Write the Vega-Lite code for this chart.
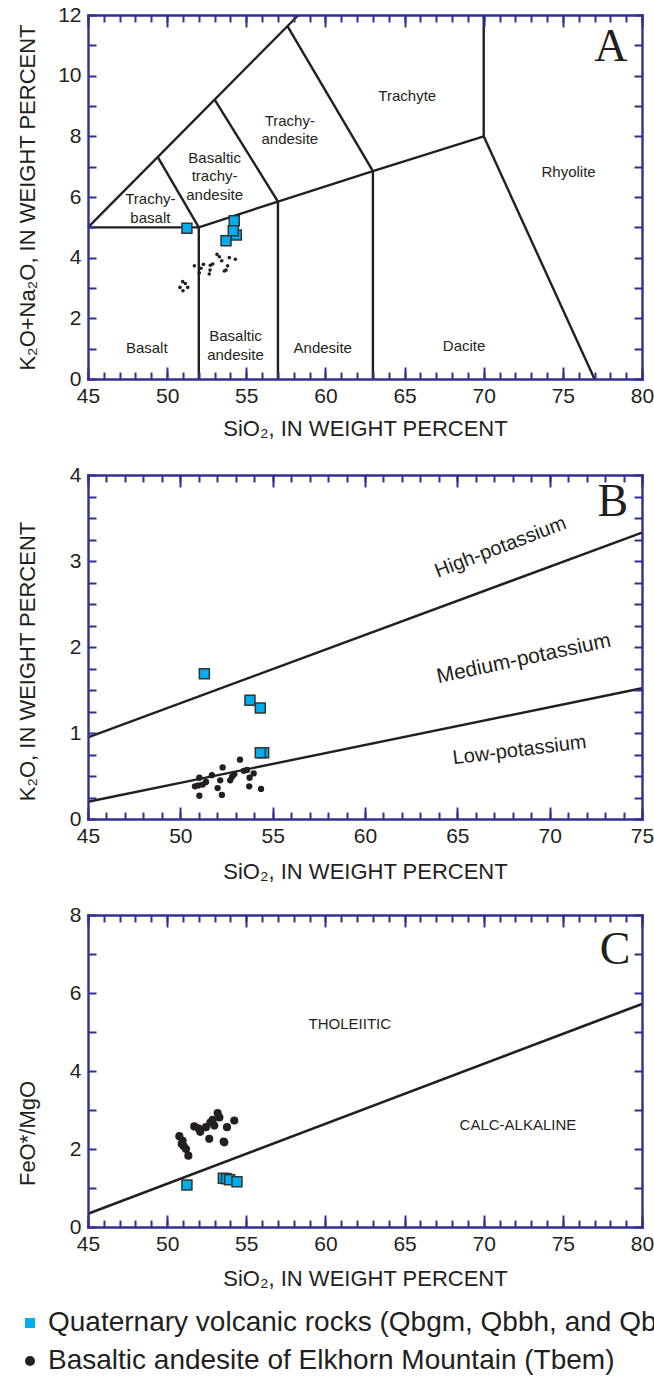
{
  "$schema": "https://vega.github.io/schema/vega-lite/v6.json",
  "background": "white",
  "padding": {"left": 16, "top": 4, "right": 0, "bottom": 0},
  "bounds": "flush",
  "spacing": 96,
  "datasets": {
    "tasLines": [
      {"seg": 1, "o": 1, "x": 45, "y": 5}, {"seg": 1, "o": 2, "x": 52, "y": 5},
      {"seg": 2, "o": 1, "x": 52, "y": 0}, {"seg": 2, "o": 2, "x": 52, "y": 5},
      {"seg": 3, "o": 1, "x": 52, "y": 5}, {"seg": 3, "o": 2, "x": 57, "y": 5.85}, {"seg": 3, "o": 3, "x": 63, "y": 6.85}, {"seg": 3, "o": 4, "x": 70, "y": 8},
      {"seg": 4, "o": 1, "x": 57, "y": 0}, {"seg": 4, "o": 2, "x": 57, "y": 5.85},
      {"seg": 5, "o": 1, "x": 63, "y": 0}, {"seg": 5, "o": 2, "x": 63, "y": 6.85},
      {"seg": 6, "o": 1, "x": 70, "y": 8}, {"seg": 6, "o": 2, "x": 77, "y": 0},
      {"seg": 7, "o": 1, "x": 70, "y": 8}, {"seg": 7, "o": 2, "x": 70, "y": 12},
      {"seg": 8, "o": 1, "x": 45, "y": 5}, {"seg": 8, "o": 2, "x": 58.3, "y": 12},
      {"seg": 9, "o": 1, "x": 49.4, "y": 7.32}, {"seg": 9, "o": 2, "x": 52, "y": 5},
      {"seg": 10, "o": 1, "x": 53, "y": 9.21}, {"seg": 10, "o": 2, "x": 57, "y": 5.85},
      {"seg": 11, "o": 1, "x": 57.6, "y": 11.63}, {"seg": 11, "o": 2, "x": 63, "y": 6.85}
    ],
    "tasLabels": [
      {"x": 48.71, "y": 1.02, "label": "Basalt"},
      {"x": 54.32, "y": 1.41, "label": "Basaltic\nandesite"},
      {"x": 59.83, "y": 1.02, "label": "Andesite"},
      {"x": 68.76, "y": 1.1, "label": "Dacite"},
      {"x": 75.36, "y": 6.82, "label": "Rhyolite"},
      {"x": 65.17, "y": 9.33, "label": "Trachyte"},
      {"x": 57.75, "y": 8.52, "label": "Trachy-\nandesite"},
      {"x": 53.0, "y": 7.3, "label": "Basaltic\ntrachy-\nandesite"},
      {"x": 48.94, "y": 5.93, "label": "Trachy-\nbasalt"}
    ],
    "tasDots": [
      {"x": 50.98, "y": 3.21, "type": "Basaltic andesite of Elkhorn Mountain (Tbem)"},
      {"x": 51.15, "y": 3.15, "type": "Basaltic andesite of Elkhorn Mountain (Tbem)"},
      {"x": 51.3, "y": 3.02, "type": "Basaltic andesite of Elkhorn Mountain (Tbem)"},
      {"x": 50.81, "y": 3.02, "type": "Basaltic andesite of Elkhorn Mountain (Tbem)"},
      {"x": 51.0, "y": 2.91, "type": "Basaltic andesite of Elkhorn Mountain (Tbem)"},
      {"x": 51.72, "y": 3.73, "type": "Basaltic andesite of Elkhorn Mountain (Tbem)"},
      {"x": 52.14, "y": 3.65, "type": "Basaltic andesite of Elkhorn Mountain (Tbem)"},
      {"x": 52.29, "y": 3.78, "type": "Basaltic andesite of Elkhorn Mountain (Tbem)"},
      {"x": 52.03, "y": 3.5, "type": "Basaltic andesite of Elkhorn Mountain (Tbem)"},
      {"x": 52.73, "y": 3.75, "type": "Basaltic andesite of Elkhorn Mountain (Tbem)"},
      {"x": 52.88, "y": 3.79, "type": "Basaltic andesite of Elkhorn Mountain (Tbem)"},
      {"x": 52.71, "y": 3.59, "type": "Basaltic andesite of Elkhorn Mountain (Tbem)"},
      {"x": 52.66, "y": 3.46, "type": "Basaltic andesite of Elkhorn Mountain (Tbem)"},
      {"x": 53.15, "y": 4.11, "type": "Basaltic andesite of Elkhorn Mountain (Tbem)"},
      {"x": 53.3, "y": 4.03, "type": "Basaltic andesite of Elkhorn Mountain (Tbem)"},
      {"x": 53.45, "y": 3.9, "type": "Basaltic andesite of Elkhorn Mountain (Tbem)"},
      {"x": 53.93, "y": 4.0, "type": "Basaltic andesite of Elkhorn Mountain (Tbem)"},
      {"x": 54.31, "y": 3.95, "type": "Basaltic andesite of Elkhorn Mountain (Tbem)"},
      {"x": 53.82, "y": 3.73, "type": "Basaltic andesite of Elkhorn Mountain (Tbem)"},
      {"x": 53.72, "y": 3.59, "type": "Basaltic andesite of Elkhorn Mountain (Tbem)"},
      {"x": 53.61, "y": 3.56, "type": "Basaltic andesite of Elkhorn Mountain (Tbem)"}
    ],
    "tasSq": [
      {"x": 54.37, "y": 4.75, "type": "Quaternary volcanic rocks (Qbgm, Qbbh, and Qbm)"},
      {"x": 51.25, "y": 4.97, "type": "Quaternary volcanic rocks (Qbgm, Qbbh, and Qbm)"},
      {"x": 54.24, "y": 5.22, "type": "Quaternary volcanic rocks (Qbgm, Qbbh, and Qbm)"},
      {"x": 54.18, "y": 4.89, "type": "Quaternary volcanic rocks (Qbgm, Qbbh, and Qbm)"},
      {"x": 53.72, "y": 4.56, "type": "Quaternary volcanic rocks (Qbgm, Qbbh, and Qbm)"}
    ],
    "kLines": [
      {"seg": 1, "o": 1, "x": 45, "y": 0.95}, {"seg": 1, "o": 2, "x": 75, "y": 3.33},
      {"seg": 2, "o": 1, "x": 45, "y": 0.2}, {"seg": 2, "o": 2, "x": 75, "y": 1.52}
    ],
    "kDots": [
      {"x": 53.23, "y": 0.69, "type": "Basaltic andesite of Elkhorn Mountain (Tbem)"},
      {"x": 52.29, "y": 0.6, "type": "Basaltic andesite of Elkhorn Mountain (Tbem)"},
      {"x": 51.71, "y": 0.51, "type": "Basaltic andesite of Elkhorn Mountain (Tbem)"},
      {"x": 51.03, "y": 0.48, "type": "Basaltic andesite of Elkhorn Mountain (Tbem)"},
      {"x": 50.79, "y": 0.38, "type": "Basaltic andesite of Elkhorn Mountain (Tbem)"},
      {"x": 50.97, "y": 0.39, "type": "Basaltic andesite of Elkhorn Mountain (Tbem)"},
      {"x": 51.21, "y": 0.4, "type": "Basaltic andesite of Elkhorn Mountain (Tbem)"},
      {"x": 51.39, "y": 0.43, "type": "Basaltic andesite of Elkhorn Mountain (Tbem)"},
      {"x": 51.03, "y": 0.27, "type": "Basaltic andesite of Elkhorn Mountain (Tbem)"},
      {"x": 52.02, "y": 0.36, "type": "Basaltic andesite of Elkhorn Mountain (Tbem)"},
      {"x": 52.16, "y": 0.45, "type": "Basaltic andesite of Elkhorn Mountain (Tbem)"},
      {"x": 52.25, "y": 0.28, "type": "Basaltic andesite of Elkhorn Mountain (Tbem)"},
      {"x": 52.7, "y": 0.45, "type": "Basaltic andesite of Elkhorn Mountain (Tbem)"},
      {"x": 52.8, "y": 0.49, "type": "Basaltic andesite of Elkhorn Mountain (Tbem)"},
      {"x": 52.92, "y": 0.52, "type": "Basaltic andesite of Elkhorn Mountain (Tbem)"},
      {"x": 53.43, "y": 0.56, "type": "Basaltic andesite of Elkhorn Mountain (Tbem)"},
      {"x": 53.61, "y": 0.57, "type": "Basaltic andesite of Elkhorn Mountain (Tbem)"},
      {"x": 53.75, "y": 0.48, "type": "Basaltic andesite of Elkhorn Mountain (Tbem)"},
      {"x": 53.97, "y": 0.53, "type": "Basaltic andesite of Elkhorn Mountain (Tbem)"},
      {"x": 53.73, "y": 0.38, "type": "Basaltic andesite of Elkhorn Mountain (Tbem)"},
      {"x": 54.37, "y": 0.35, "type": "Basaltic andesite of Elkhorn Mountain (Tbem)"}
    ],
    "kSq": [
      {"x": 51.3, "y": 1.69, "type": "Quaternary volcanic rocks (Qbgm, Qbbh, and Qbm)"},
      {"x": 53.77, "y": 1.38, "type": "Quaternary volcanic rocks (Qbgm, Qbbh, and Qbm)"},
      {"x": 54.33, "y": 1.29, "type": "Quaternary volcanic rocks (Qbgm, Qbbh, and Qbm)"},
      {"x": 54.51, "y": 0.77, "type": "Quaternary volcanic rocks (Qbgm, Qbbh, and Qbm)"},
      {"x": 54.33, "y": 0.77, "type": "Quaternary volcanic rocks (Qbgm, Qbbh, and Qbm)"}
    ],
    "fmLines": [
      {"seg": 1, "o": 1, "x": 45, "y": 0.34}, {"seg": 1, "o": 2, "x": 80, "y": 5.72}
    ],
    "fmDots": [
      {"x": 50.77, "y": 2.33, "type": "Basaltic andesite of Elkhorn Mountain (Tbem)"},
      {"x": 50.98, "y": 2.21, "type": "Basaltic andesite of Elkhorn Mountain (Tbem)"},
      {"x": 50.92, "y": 2.13, "type": "Basaltic andesite of Elkhorn Mountain (Tbem)"},
      {"x": 51.05, "y": 2.07, "type": "Basaltic andesite of Elkhorn Mountain (Tbem)"},
      {"x": 51.19, "y": 2.0, "type": "Basaltic andesite of Elkhorn Mountain (Tbem)"},
      {"x": 51.34, "y": 1.83, "type": "Basaltic andesite of Elkhorn Mountain (Tbem)"},
      {"x": 51.71, "y": 2.58, "type": "Basaltic andesite of Elkhorn Mountain (Tbem)"},
      {"x": 51.97, "y": 2.53, "type": "Basaltic andesite of Elkhorn Mountain (Tbem)"},
      {"x": 52.09, "y": 2.44, "type": "Basaltic andesite of Elkhorn Mountain (Tbem)"},
      {"x": 52.45, "y": 2.56, "type": "Basaltic andesite of Elkhorn Mountain (Tbem)"},
      {"x": 52.73, "y": 2.68, "type": "Basaltic andesite of Elkhorn Mountain (Tbem)"},
      {"x": 52.88, "y": 2.75, "type": "Basaltic andesite of Elkhorn Mountain (Tbem)"},
      {"x": 53.19, "y": 2.92, "type": "Basaltic andesite of Elkhorn Mountain (Tbem)"},
      {"x": 53.3, "y": 2.81, "type": "Basaltic andesite of Elkhorn Mountain (Tbem)"},
      {"x": 52.98, "y": 2.6, "type": "Basaltic andesite of Elkhorn Mountain (Tbem)"},
      {"x": 52.66, "y": 2.26, "type": "Basaltic andesite of Elkhorn Mountain (Tbem)"},
      {"x": 53.57, "y": 2.19, "type": "Basaltic andesite of Elkhorn Mountain (Tbem)"},
      {"x": 53.78, "y": 2.56, "type": "Basaltic andesite of Elkhorn Mountain (Tbem)"},
      {"x": 54.24, "y": 2.73, "type": "Basaltic andesite of Elkhorn Mountain (Tbem)"},
      {"x": 53.61, "y": 2.17, "type": "Basaltic andesite of Elkhorn Mountain (Tbem)"}
    ],
    "fmSq": [
      {"x": 51.25, "y": 1.08, "type": "Quaternary volcanic rocks (Qbgm, Qbbh, and Qbm)"},
      {"x": 53.55, "y": 1.25, "type": "Quaternary volcanic rocks (Qbgm, Qbbh, and Qbm)"},
      {"x": 53.75, "y": 1.24, "type": "Quaternary volcanic rocks (Qbgm, Qbbh, and Qbm)"},
      {"x": 53.95, "y": 1.21, "type": "Quaternary volcanic rocks (Qbgm, Qbbh, and Qbm)"},
      {"x": 54.41, "y": 1.16, "type": "Quaternary volcanic rocks (Qbgm, Qbbh, and Qbm)"}
    ]
  },
  "vconcat": [
    {
      "width": 554,
      "height": 364,
      "layer": [
        {
          "data": {"name": "tasLines"},
          "mark": {"type": "line", "color": "#231f20", "strokeWidth": 2.4},
          "encoding": {
            "x": {"field": "x", "type": "quantitative", "scale": {"domain": [45, 80], "nice": false, "zero": false},
              "axis": {"orient": "bottom", "values": [45, 50, 55, 60, 65, 70, 75, 80], "format": "d", "tickSize": -12, "labelPadding": 18, "title": "SiO₂, IN WEIGHT PERCENT", "titleY": 56, "titleBaseline": "alphabetic", "zindex": 1}},
            "y": {"field": "y", "type": "quantitative", "scale": {"domain": [0, 12], "nice": false, "zero": false},
              "axis": {"orient": "left", "values": [0, 1, 2, 3, 4, 5, 6, 7, 8, 9, 10, 11, 12], "format": "d", "tickSize": -8, "labelPadding": 15, "labelExpr": "datum.value % 2 === 0 ? datum.label : ''", "title": "K₂O+Na₂O, IN WEIGHT PERCENT", "titleX": -54, "titleBaseline": "alphabetic", "zindex": 1}},
            "detail": {"field": "seg", "type": "nominal"},
            "order": {"field": "o", "type": "quantitative"}
          }
        },
        {
          "data": {"name": "tasLabels"},
          "mark": {"type": "text", "font": "Liberation Sans", "fontSize": 15, "color": "#231f20", "lineBreak": "\n", "lineHeight": 18.5, "align": "center", "baseline": "middle"},
          "encoding": {
            "x": {"field": "x", "type": "quantitative", "scale": {"domain": [45, 80], "nice": false, "zero": false},
              "axis": {"orient": "bottom", "values": [45, 46, 47, 48, 49, 50, 51, 52, 53, 54, 55, 56, 57, 58, 59, 60, 61, 62, 63, 64, 65, 66, 67, 68, 69, 70, 71, 72, 73, 74, 75, 76, 77, 78, 79, 80], "tickSize": -7, "labels": false, "domain": false, "title": null, "zindex": 1}},
            "y": {"field": "y", "type": "quantitative", "scale": {"domain": [0, 12], "nice": false, "zero": false}, "axis": null},
            "text": {"field": "label"}
          }
        },
        {
          "data": {"name": "tasDots"},
          "mark": {"type": "point", "filled": true, "size": 13, "opacity": 1},
          "encoding": {
            "x": {"field": "x", "type": "quantitative", "scale": {"domain": [45, 80], "nice": false, "zero": false},
              "axis": {"orient": "top", "values": [45, 50, 55, 60, 65, 70, 75, 80], "tickSize": -12, "labels": false, "title": null, "zindex": 1}},
            "y": {"field": "y", "type": "quantitative", "scale": {"domain": [0, 12], "nice": false, "zero": false},
              "axis": {"orient": "right", "values": [0, 1, 2, 3, 4, 5, 6, 7, 8, 9, 10, 11, 12], "tickSize": -8, "labels": false, "title": null, "zindex": 1}},
            "fill": {"field": "type", "type": "nominal", "scale": {"domain": ["Quaternary volcanic rocks (Qbgm, Qbbh, and Qbm)", "Basaltic andesite of Elkhorn Mountain (Tbem)"], "range": ["#00aeef", "#231f20"]}},
            "shape": {"field": "type", "type": "nominal", "scale": {"domain": ["Quaternary volcanic rocks (Qbgm, Qbbh, and Qbm)", "Basaltic andesite of Elkhorn Mountain (Tbem)"], "range": ["square", "circle"]}}
          }
        },
        {
          "data": {"name": "tasSq"},
          "mark": {"type": "point", "filled": true, "size": 100, "opacity": 1, "stroke": "#333333", "strokeWidth": 1.5},
          "encoding": {
            "x": {"field": "x", "type": "quantitative", "scale": {"domain": [45, 80], "nice": false, "zero": false},
              "axis": {"orient": "top", "values": [45, 46, 47, 48, 49, 50, 51, 52, 53, 54, 55, 56, 57, 58, 59, 60, 61, 62, 63, 64, 65, 66, 67, 68, 69, 70, 71, 72, 73, 74, 75, 76, 77, 78, 79, 80], "tickSize": -7, "labels": false, "domain": false, "title": null, "zindex": 1}},
            "y": {"field": "y", "type": "quantitative", "scale": {"domain": [0, 12], "nice": false, "zero": false}, "axis": null},
            "fill": {"field": "type", "type": "nominal"},
            "shape": {"field": "type", "type": "nominal"}
          }
        },
        {
          "data": {"values": [{"x": 78.04, "y": 10.96, "label": "A"}]},
          "mark": {"type": "text", "font": "Liberation Serif", "fontSize": 46, "color": "#231f20", "align": "center", "baseline": "middle"},
          "encoding": {
            "x": {"field": "x", "type": "quantitative", "scale": {"domain": [45, 80], "nice": false, "zero": false}, "axis": null},
            "y": {"field": "y", "type": "quantitative", "scale": {"domain": [0, 12], "nice": false, "zero": false}, "axis": null},
            "text": {"field": "label"}
          }
        }
      ],
      "resolve": {"axis": {"x": "independent", "y": "independent"}}
    },
    {
      "width": 554,
      "height": 344,
      "layer": [
        {
          "data": {"name": "kLines"},
          "mark": {"type": "line", "color": "#231f20", "strokeWidth": 2.4},
          "encoding": {
            "x": {"field": "x", "type": "quantitative", "scale": {"domain": [45, 75], "nice": false, "zero": false},
              "axis": {"orient": "bottom", "values": [45, 50, 55, 60, 65, 70, 75], "format": "d", "tickSize": -12, "labelPadding": 18, "title": "SiO₂, IN WEIGHT PERCENT", "titleY": 59, "titleBaseline": "alphabetic", "zindex": 1}},
            "y": {"field": "y", "type": "quantitative", "scale": {"domain": [0, 4], "nice": false, "zero": false},
              "axis": {"orient": "left", "values": [0, 0.25, 0.5, 0.75, 1, 1.25, 1.5, 1.75, 2, 2.25, 2.5, 2.75, 3, 3.25, 3.5, 3.75, 4], "format": ".0f", "tickSize": -8, "labelPadding": 15, "labelExpr": "datum.value % 1 === 0 ? datum.label : ''", "title": "K₂O, IN WEIGHT PERCENT", "titleX": -54, "titleY": 186, "titleBaseline": "alphabetic", "zindex": 1}},
            "detail": {"field": "seg", "type": "nominal"},
            "order": {"field": "o", "type": "quantitative"}
          }
        },
        {
          "data": {"values": [{"x": 67.34, "y": 3.16, "label": "High-potassium"}]},
          "mark": {"type": "text", "font": "Liberation Sans", "fontSize": 20, "color": "#231f20", "angle": -21, "align": "center", "baseline": "middle"},
          "encoding": {
            "x": {"field": "x", "type": "quantitative", "scale": {"domain": [45, 75], "nice": false, "zero": false},
              "axis": {"orient": "bottom", "values": [45, 46, 47, 48, 49, 50, 51, 52, 53, 54, 55, 56, 57, 58, 59, 60, 61, 62, 63, 64, 65, 66, 67, 68, 69, 70, 71, 72, 73, 74, 75], "tickSize": -7, "labels": false, "domain": false, "title": null, "zindex": 1}},
            "y": {"field": "y", "type": "quantitative", "scale": {"domain": [0, 4], "nice": false, "zero": false}, "axis": null},
            "text": {"field": "label"}
          }
        },
        {
          "data": {"values": [{"x": 68.6, "y": 1.86, "label": "Medium-potassium"}]},
          "mark": {"type": "text", "font": "Liberation Sans", "fontSize": 21, "color": "#231f20", "angle": -12, "align": "center", "baseline": "middle"},
          "encoding": {
            "x": {"field": "x", "type": "quantitative", "scale": {"domain": [45, 75], "nice": false, "zero": false}, "axis": null},
            "y": {"field": "y", "type": "quantitative", "scale": {"domain": [0, 4], "nice": false, "zero": false}, "axis": null},
            "text": {"field": "label"}
          }
        },
        {
          "data": {"values": [{"x": 68.37, "y": 0.8, "label": "Low-potassium"}]},
          "mark": {"type": "text", "font": "Liberation Sans", "fontSize": 20, "color": "#231f20", "angle": -7, "align": "center", "baseline": "middle"},
          "encoding": {
            "x": {"field": "x", "type": "quantitative", "scale": {"domain": [45, 75], "nice": false, "zero": false}, "axis": null},
            "y": {"field": "y", "type": "quantitative", "scale": {"domain": [0, 4], "nice": false, "zero": false}, "axis": null},
            "text": {"field": "label"}
          }
        },
        {
          "data": {"name": "kDots"},
          "mark": {"type": "point", "filled": true, "size": 40, "opacity": 1},
          "encoding": {
            "x": {"field": "x", "type": "quantitative", "scale": {"domain": [45, 75], "nice": false, "zero": false},
              "axis": {"orient": "top", "values": [45, 50, 55, 60, 65, 70, 75], "tickSize": -12, "labels": false, "title": null, "zindex": 1}},
            "y": {"field": "y", "type": "quantitative", "scale": {"domain": [0, 4], "nice": false, "zero": false},
              "axis": {"orient": "right", "values": [0, 0.25, 0.5, 0.75, 1, 1.25, 1.5, 1.75, 2, 2.25, 2.5, 2.75, 3, 3.25, 3.5, 3.75, 4], "tickSize": -8, "labels": false, "title": null, "zindex": 1}},
            "fill": {"field": "type", "type": "nominal"},
            "shape": {"field": "type", "type": "nominal"}
          }
        },
        {
          "data": {"name": "kSq"},
          "mark": {"type": "point", "filled": true, "size": 100, "opacity": 1, "stroke": "#333333", "strokeWidth": 1.5},
          "encoding": {
            "x": {"field": "x", "type": "quantitative", "scale": {"domain": [45, 75], "nice": false, "zero": false},
              "axis": {"orient": "top", "values": [45, 46, 47, 48, 49, 50, 51, 52, 53, 54, 55, 56, 57, 58, 59, 60, 61, 62, 63, 64, 65, 66, 67, 68, 69, 70, 71, 72, 73, 74, 75], "tickSize": -7, "labels": false, "domain": false, "title": null, "zindex": 1}},
            "y": {"field": "y", "type": "quantitative", "scale": {"domain": [0, 4], "nice": false, "zero": false}, "axis": null},
            "fill": {"field": "type", "type": "nominal"},
            "shape": {"field": "type", "type": "nominal"}
          }
        },
        {
          "data": {"values": [{"x": 73.42, "y": 3.69, "label": "B"}]},
          "mark": {"type": "text", "font": "Liberation Serif", "fontSize": 46, "color": "#231f20", "align": "center", "baseline": "middle"},
          "encoding": {
            "x": {"field": "x", "type": "quantitative", "scale": {"domain": [45, 75], "nice": false, "zero": false}, "axis": null},
            "y": {"field": "y", "type": "quantitative", "scale": {"domain": [0, 4], "nice": false, "zero": false}, "axis": null},
            "text": {"field": "label"}
          }
        }
      ],
      "resolve": {"axis": {"x": "independent", "y": "independent"}}
    },
    {
      "width": 554,
      "height": 312,
      "layer": [
        {
          "data": {"name": "fmLines"},
          "mark": {"type": "line", "color": "#231f20", "strokeWidth": 2.7},
          "encoding": {
            "x": {"field": "x", "type": "quantitative", "scale": {"domain": [45, 80], "nice": false, "zero": false},
              "axis": {"orient": "bottom", "values": [45, 50, 55, 60, 65, 70, 75, 80], "format": "d", "tickSize": -12, "labelPadding": 18, "title": "SiO₂, IN WEIGHT PERCENT", "titleY": 58, "titleBaseline": "alphabetic", "zindex": 1}},
            "y": {"field": "y", "type": "quantitative", "scale": {"domain": [0, 8], "nice": false, "zero": false},
              "axis": {"orient": "left", "values": [0, 1, 2, 3, 4, 5, 6, 7, 8], "format": "d", "tickSize": -8, "labelPadding": 15, "labelExpr": "datum.value % 2 === 0 ? datum.label : ''", "title": "FeO*/MgO", "titleX": -54, "titleY": 218, "titleBaseline": "alphabetic", "zindex": 1}},
            "detail": {"field": "seg", "type": "nominal"},
            "order": {"field": "o", "type": "quantitative"}
          }
        },
        {
          "data": {"values": [{"x": 61.54, "y": 5.2, "label": "THOLEIITIC"}, {"x": 72.16, "y": 2.62, "label": "CALC-ALKALINE"}]},
          "mark": {"type": "text", "font": "Liberation Sans", "fontSize": 15, "color": "#231f20", "align": "center", "baseline": "middle"},
          "encoding": {
            "x": {"field": "x", "type": "quantitative", "scale": {"domain": [45, 80], "nice": false, "zero": false},
              "axis": {"orient": "bottom", "values": [45, 46, 47, 48, 49, 50, 51, 52, 53, 54, 55, 56, 57, 58, 59, 60, 61, 62, 63, 64, 65, 66, 67, 68, 69, 70, 71, 72, 73, 74, 75, 76, 77, 78, 79, 80], "tickSize": -7, "labels": false, "domain": false, "title": null, "zindex": 1}},
            "y": {"field": "y", "type": "quantitative", "scale": {"domain": [0, 8], "nice": false, "zero": false}, "axis": null},
            "text": {"field": "label"}
          }
        },
        {
          "data": {"name": "fmDots"},
          "mark": {"type": "point", "filled": true, "size": 66, "opacity": 1},
          "encoding": {
            "x": {"field": "x", "type": "quantitative", "scale": {"domain": [45, 80], "nice": false, "zero": false},
              "axis": {"orient": "top", "values": [45, 50, 55, 60, 65, 70, 75, 80], "tickSize": -12, "labels": false, "title": null, "zindex": 1}},
            "y": {"field": "y", "type": "quantitative", "scale": {"domain": [0, 8], "nice": false, "zero": false},
              "axis": {"orient": "right", "values": [0, 1, 2, 3, 4, 5, 6, 7, 8], "tickSize": -8, "labels": false, "title": null, "zindex": 1}},
            "fill": {"field": "type", "type": "nominal"},
            "shape": {"field": "type", "type": "nominal"}
          }
        },
        {
          "data": {"name": "fmSq"},
          "mark": {"type": "point", "filled": true, "size": 100, "opacity": 1, "stroke": "#333333", "strokeWidth": 1.5},
          "encoding": {
            "x": {"field": "x", "type": "quantitative", "scale": {"domain": [45, 80], "nice": false, "zero": false},
              "axis": {"orient": "top", "values": [45, 46, 47, 48, 49, 50, 51, 52, 53, 54, 55, 56, 57, 58, 59, 60, 61, 62, 63, 64, 65, 66, 67, 68, 69, 70, 71, 72, 73, 74, 75, 76, 77, 78, 79, 80], "tickSize": -7, "labels": false, "domain": false, "title": null, "zindex": 1}},
            "y": {"field": "y", "type": "quantitative", "scale": {"domain": [0, 8], "nice": false, "zero": false}, "axis": null},
            "fill": {"field": "type", "type": "nominal",
              "legend": {"title": null, "orient": "none", "legendX": -72, "legendY": 1294, "padding": 0, "labelFont": "Liberation Sans", "labelFontSize": 28, "labelColor": "#231f20", "labelLimit": 2000, "labelOffset": 4, "rowPadding": 10, "symbolSize": 100, "symbolStrokeColor": "#333333", "symbolStrokeWidth": 1.5,
                "encode": {"symbols": {"update": {"size": {"signal": "datum.value === 'Basaltic andesite of Elkhorn Mountain (Tbem)' ? 6 : 100"}, "stroke": {"signal": "datum.value === 'Basaltic andesite of Elkhorn Mountain (Tbem)' ? 'transparent' : '#333333'"}, "strokeWidth": {"signal": "datum.value === 'Basaltic andesite of Elkhorn Mountain (Tbem)' ? 0 : 1.5"}}}}}},
            "shape": {"field": "type", "type": "nominal",
              "legend": {"title": null, "orient": "none", "legendX": -72, "legendY": 1294, "padding": 0, "labelFont": "Liberation Sans", "labelFontSize": 28, "labelColor": "#231f20", "labelLimit": 2000, "labelOffset": 4, "rowPadding": 10, "symbolSize": 100, "symbolStrokeColor": "#333333", "symbolStrokeWidth": 1.5,
                "encode": {"symbols": {"update": {"size": {"signal": "datum.value === 'Basaltic andesite of Elkhorn Mountain (Tbem)' ? 6 : 100"}, "stroke": {"signal": "datum.value === 'Basaltic andesite of Elkhorn Mountain (Tbem)' ? 'transparent' : '#333333'"}, "strokeWidth": {"signal": "datum.value === 'Basaltic andesite of Elkhorn Mountain (Tbem)' ? 0 : 1.5"}}}}}}
          }
        },
        {
          "data": {"values": [{"x": 78.3, "y": 7.1, "label": "C"}]},
          "mark": {"type": "text", "font": "Liberation Serif", "fontSize": 46, "color": "#231f20", "align": "center", "baseline": "middle"},
          "encoding": {
            "x": {"field": "x", "type": "quantitative", "scale": {"domain": [45, 80], "nice": false, "zero": false}, "axis": null},
            "y": {"field": "y", "type": "quantitative", "scale": {"domain": [0, 8], "nice": false, "zero": false}, "axis": null},
            "text": {"field": "label"}
          }
        }
      ],
      "resolve": {"axis": {"x": "independent", "y": "independent"}}
    }
  ],
  "config": {
    "view": {"stroke": null},
    "axis": {
      "grid": false,
      "labelFont": "Liberation Sans",
      "labelFontSize": 21,
      "labelColor": "#231f20",
      "labelFlush": false,
      "labelOverlap": false,
      "titleFont": "Liberation Sans",
      "titleFontSize": 22,
      "titleFontWeight": "normal",
      "titleColor": "#231f20",
      "tickColor": "#2e3192",
      "tickWidth": 2,
      "domainColor": "#2e3192",
      "domainWidth": 2.4,
      "domainCap": "square"
    }
  }
}
